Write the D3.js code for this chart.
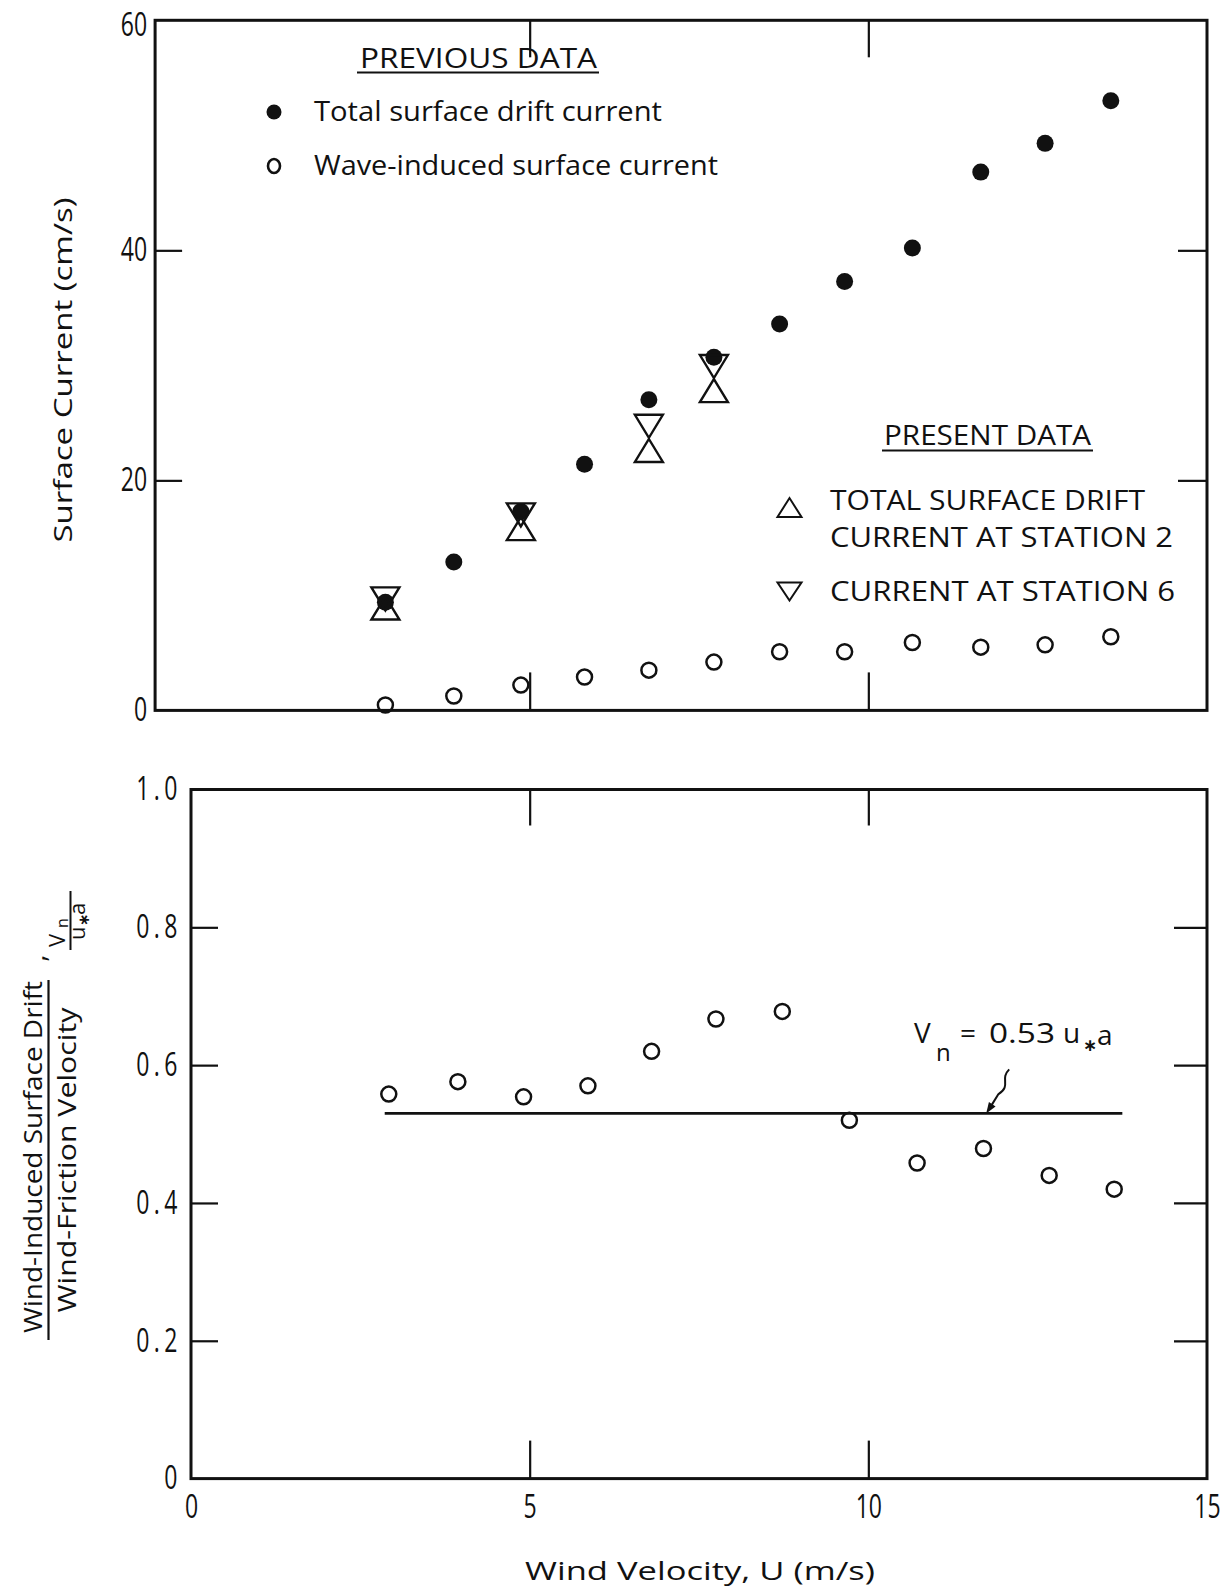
<!DOCTYPE html>
<html>
<head>
<meta charset="utf-8">
<script src="https://cdn.jsdelivr.net/npm/d3@7"></script>
<style>
  html, body { margin: 0; padding: 0; background: #fff; }
  svg { display: block; }
  text { font-family: "Open Sans", "DejaVu Sans", sans-serif; fill: #111; }
</style>
</head>
<body>
<svg id="chart" width="1232" height="1591"></svg>
<script>
// ---- Upper panel: surface current vs wind velocity ----
// wind velocity U (m/s) of the earlier runs
const windSpeed = [2.87, 3.88, 4.87, 5.81, 6.76, 7.72, 8.69, 9.65, 10.65, 11.66, 12.61, 13.58];
// total surface drift current (cm/s), previous data
const totalDriftPrevious = [9.4, 12.9, 17.3, 21.4, 27.0, 30.7, 33.6, 37.3, 40.2, 46.8, 49.3, 53.0];
// wave-induced surface current (cm/s), previous data
const waveInducedCurrent = [0.47, 1.25, 2.2, 2.9, 3.5, 4.2, 5.1, 5.1, 5.9, 5.5, 5.7, 6.4];
// present data
const presentSpeed = [2.87, 4.87, 6.76, 7.72];
const station2Drift = [8.9, 15.8, 22.6, 27.8];
const station6Drift = [9.7, 17.0, 24.7, 29.9];

// ---- Lower panel: wind-induced drift / friction velocity ----
const ratioSpeed = [2.92, 3.94, 4.91, 5.86, 6.80, 7.75, 8.73, 9.72, 10.72, 11.70, 12.67, 13.63];
const driftRatio = [0.558, 0.576, 0.554, 0.570, 0.620, 0.667, 0.678, 0.520, 0.458, 0.479, 0.440, 0.420];
const fitCoefficient = 0.53;          // Vn = 0.53 u*a
const fitSpeedRange = [2.86, 13.75];  // extent of the fitted line
const fitLabelSpeed = 11.74;          // where the leader meets the line

// ---- tick values ----
const xTickLabels = [0, 5, 10, 15];
const xInnerTicks = [5, 10];
const currentTicks = [0, 20, 40, 60];
const ratioTicks = [0, 0.2, 0.4, 0.6, 0.8, 1.0];

const svg = d3.select("#chart");
svg.append("rect").attr("width", 1232).attr("height", 1591).attr("fill", "#fff");

const x = d3.scaleLinear().domain([0, 15]).range([191, 1207]);
const yTop = d3.scaleLinear().domain([0, 60]).range([710.4, 20.3]);
const yBot = d3.scaleLinear().domain([0, 1]).range([1478.6, 789.5]);
const topFrameStart = -0.53; // upper frame reaches a little left of U = 0

const INK = "#111";
const condensed = "scale(0.72,1)";
const TICK_FONT = 32;

function styleAxis(g) {
  g.select(".domain").remove();
  g.selectAll(".tick line").attr("stroke", INK).attr("stroke-width", 2.2);
}
function styleTickText(g, spacing) {
  g.selectAll(".tick text")
    .attr("font-size", TICK_FONT).attr("font-family", "'Open Sans', sans-serif")
    .attr("font-weight", 500)
    .attr("letter-spacing", spacing || 0)
    .attr("fill", INK).attr("transform", condensed);
}

// ================= Upper panel =================
const upper = svg.append("g");
const tx0 = x(topFrameStart), tx1 = x(15), ty0 = yTop(60), ty1 = yTop(0);

// left axis with labels
upper.append("g")
  .attr("transform", `translate(${tx0},0)`)
  .call(d3.axisLeft(yTop).tickValues(currentTicks).tickSize(-27).tickPadding(11).tickFormat(d3.format("d")))
  .call(styleAxis)
  .call(g => g.selectAll(".tick line").filter(d => d === 0 || d === 60).remove())
  .call(g => styleTickText(g, 0))
  // keep the topmost label clear of the page edge
  .call(g => g.selectAll(".tick text").filter(d => d === 60).attr("dy", "0.48em"));

// right axis, ticks only
upper.append("g")
  .attr("transform", `translate(${tx1},0)`)
  .call(d3.axisRight(yTop).tickValues([20, 40]).tickSize(-29).tickFormat(""))
  .call(styleAxis);

// top and bottom edge ticks
upper.append("g")
  .attr("transform", `translate(0,${ty0})`)
  .call(d3.axisTop(x).tickValues(xInnerTicks).tickSize(-37).tickFormat(""))
  .call(styleAxis);
upper.append("g")
  .attr("transform", `translate(0,${ty1})`)
  .call(d3.axisBottom(x).tickValues(xInnerTicks).tickSize(-38).tickFormat(""))
  .call(styleAxis);

// frame
upper.append("rect")
  .attr("x", tx0).attr("y", ty0).attr("width", tx1 - tx0).attr("height", ty1 - ty0)
  .attr("fill", "none").attr("stroke", INK).attr("stroke-width", 3);

// previous data: filled dots
upper.append("g").selectAll("circle")
  .data(windSpeed.map((u, i) => [u, totalDriftPrevious[i]]))
  .join("circle")
  .attr("cx", d => x(d[0])).attr("cy", d => yTop(d[1])).attr("r", 8.5)
  .attr("fill", INK);

// previous data: open circles
upper.append("g").selectAll("circle")
  .data(windSpeed.map((u, i) => [u, waveInducedCurrent[i]]))
  .join("circle")
  .attr("cx", d => x(d[0])).attr("cy", d => yTop(d[1])).attr("r", 7.5)
  .attr("fill", "none").attr("stroke", INK).attr("stroke-width", 2.5);

// triangle paths centred on their bounding box
function triangle(w, h, up) {
  const p = d3.path();
  if (up) { p.moveTo(-w / 2, h / 2); p.lineTo(w / 2, h / 2); p.lineTo(0, -h / 2); }
  else    { p.moveTo(-w / 2, -h / 2); p.lineTo(w / 2, -h / 2); p.lineTo(0, h / 2); }
  p.closePath();
  return p.toString();
}

// present data: station 2 (up) and station 6 (down)
upper.append("g").selectAll("path")
  .data(presentSpeed.map((u, i) => [u, station2Drift[i]]))
  .join("path")
  .attr("d", triangle(28, 23, true))
  .attr("transform", d => `translate(${x(d[0])},${yTop(d[1])})`)
  .attr("fill", "none").attr("stroke", INK).attr("stroke-width", 2.4).attr("stroke-linejoin", "miter");
upper.append("g").selectAll("path")
  .data(presentSpeed.map((u, i) => [u, station6Drift[i]]))
  .join("path")
  .attr("d", triangle(28, 23, false))
  .attr("transform", d => `translate(${x(d[0])},${yTop(d[1])})`)
  .attr("fill", "none").attr("stroke", INK).attr("stroke-width", 2.4).attr("stroke-linejoin", "miter");

// legends
upper.append("text").attr("x", 360).attr("y", 68).attr("font-size", 28)
  .attr("textLength", 237).attr("lengthAdjust", "spacingAndGlyphs").text("PREVIOUS DATA");
upper.append("line").attr("x1", 357).attr("x2", 599).attr("y1", 72.5).attr("y2", 72.5)
  .attr("stroke", INK).attr("stroke-width", 2);
upper.append("circle").attr("cx", 274).attr("cy", 112).attr("r", 7.5).attr("fill", INK);
upper.append("text").attr("x", 314).attr("y", 121).attr("font-size", 27)
  .attr("textLength", 348).attr("lengthAdjust", "spacingAndGlyphs").text("Total surface drift current");
upper.append("ellipse").attr("cx", 274).attr("cy", 166).attr("rx", 6).attr("ry", 7)
  .attr("fill", "none").attr("stroke", INK).attr("stroke-width", 2.6);
upper.append("text").attr("x", 314).attr("y", 175).attr("font-size", 27)
  .attr("textLength", 404).attr("lengthAdjust", "spacingAndGlyphs").text("Wave-induced surface current");

upper.append("text").attr("x", 884).attr("y", 445).attr("font-size", 28)
  .attr("textLength", 207).attr("lengthAdjust", "spacingAndGlyphs").text("PRESENT DATA");
upper.append("line").attr("x1", 882).attr("x2", 1093).attr("y1", 450.5).attr("y2", 450.5)
  .attr("stroke", INK).attr("stroke-width", 2);
upper.append("path").attr("d", triangle(24, 19, true)).attr("transform", "translate(789.5,507.5)")
  .attr("fill", "none").attr("stroke", INK).attr("stroke-width", 2);
upper.append("text").attr("x", 830).attr("y", 510).attr("font-size", 28)
  .attr("textLength", 315).attr("lengthAdjust", "spacingAndGlyphs").text("TOTAL SURFACE DRIFT");
upper.append("text").attr("x", 830).attr("y", 547).attr("font-size", 28)
  .attr("textLength", 343).attr("lengthAdjust", "spacingAndGlyphs").text("CURRENT AT STATION 2");
upper.append("path").attr("d", triangle(24, 18, false)).attr("transform", "translate(789.5,591.5)")
  .attr("fill", "none").attr("stroke", INK).attr("stroke-width", 2);
upper.append("text").attr("x", 830).attr("y", 601).attr("font-size", 28)
  .attr("textLength", 345).attr("lengthAdjust", "spacingAndGlyphs").text("CURRENT AT STATION 6");

// y title
upper.append("text")
  .attr("transform", "translate(72,370) rotate(-90)")
  .attr("text-anchor", "middle").attr("font-size", 26)
  .attr("textLength", 345).attr("lengthAdjust", "spacingAndGlyphs")
  .text("Surface Current  (cm/s)");

// ================= Lower panel =================
const lower = svg.append("g");
const bx0 = x(0), bx1 = x(15), by0 = yBot(1), by1 = yBot(0);

lower.append("g")
  .attr("transform", `translate(${bx0},0)`)
  .call(d3.axisLeft(yBot).tickValues(ratioTicks).tickSize(-27).tickPadding(13)
    .tickFormat(d => d === 0 ? "0" : d.toFixed(1)))
  .call(styleAxis)
  .call(g => g.selectAll(".tick line").filter(d => d === 0 || d === 1).remove())
  .call(g => styleTickText(g, 6))
  .call(g => g.selectAll(".tick text").filter(d => d === 0).attr("letter-spacing", 0).attr("x", -19));

lower.append("g")
  .attr("transform", `translate(${bx1},0)`)
  .call(d3.axisRight(yBot).tickValues([0.2, 0.4, 0.6, 0.8]).tickSize(-33).tickFormat(""))
  .call(styleAxis);

lower.append("g")
  .attr("transform", `translate(0,${by0})`)
  .call(d3.axisTop(x).tickValues(xInnerTicks).tickSize(-36).tickFormat(""))
  .call(styleAxis);

lower.append("g")
  .attr("transform", `translate(0,${by1})`)
  .call(d3.axisBottom(x).tickValues(xTickLabels).tickSize(-38).tickPadding(17).tickFormat(d3.format("d")))
  .call(styleAxis)
  .call(g => g.selectAll(".tick line").filter(d => d === 0 || d === 15).remove())
  .call(g => styleTickText(g, 0));

lower.append("rect")
  .attr("x", bx0).attr("y", by0).attr("width", bx1 - bx0).attr("height", by1 - by0)
  .attr("fill", "none").attr("stroke", INK).attr("stroke-width", 3);

// fitted line Vn = 0.53 u*a
lower.append("line")
  .attr("x1", x(fitSpeedRange[0])).attr("x2", x(fitSpeedRange[1]))
  .attr("y1", yBot(fitCoefficient)).attr("y2", yBot(fitCoefficient))
  .attr("stroke", INK).attr("stroke-width", 2.6);

// ratio points
lower.append("g").selectAll("circle")
  .data(ratioSpeed.map((u, i) => [u, driftRatio[i]]))
  .join("circle")
  .attr("cx", d => x(d[0])).attr("cy", d => yBot(d[1])).attr("r", 7.5)
  .attr("fill", "none").attr("stroke", INK).attr("stroke-width", 2.5);

// label with leader to the line
const tip = [x(fitLabelSpeed), yBot(fitCoefficient)];
const leader = d3.path();
leader.moveTo(tip[0] + 23, tip[1] - 44);
leader.bezierCurveTo(tip[0] + 13, tip[1] - 34, tip[0] + 26, tip[1] - 28, tip[0] + 12, tip[1] - 19);
leader.lineTo(tip[0] + 4, tip[1] - 6);
lower.append("path").attr("d", leader.toString())
  .attr("fill", "none").attr("stroke", INK).attr("stroke-width", 2);
{
  const dir = [-0.55, 0.83], back = [-dir[0], -dir[1]], perp = [dir[1], -dir[0]];
  const L = 11, W = 4;
  const pts = [
    tip,
    [tip[0] + back[0] * L + perp[0] * W, tip[1] + back[1] * L + perp[1] * W],
    [tip[0] + back[0] * L - perp[0] * W, tip[1] + back[1] * L - perp[1] * W]
  ];
  lower.append("polygon").attr("points", pts.map(p => p.join(",")).join(" ")).attr("fill", INK);
}
const lab = lower.append("g");
lab.append("text").attr("x", 914).attr("y", 1043).attr("font-size", 28).text("V");
lab.append("text").attr("x", 936).attr("y", 1061).attr("font-size", 24).text("n");
lab.append("text").attr("x", 960).attr("y", 1043).attr("font-size", 28).text("=");
lab.append("text").attr("x", 989).attr("y", 1043).attr("font-size", 28)
  .attr("textLength", 66).attr("lengthAdjust", "spacingAndGlyphs").text("0.53");
lab.append("text").attr("x", 1063).attr("y", 1043).attr("font-size", 28).text("u");
lab.append("text").attr("x", 1083).attr("y", 1051).attr("font-size", 17).attr("font-weight", 700).text("∗");
lab.append("text").attr("x", 1097).attr("y", 1045).attr("font-size", 28).text("a");

// y title: fraction, then Vn / u*a
const yt = lower.append("g");
yt.append("text").attr("transform", "translate(42,1157) rotate(-90)")
  .attr("text-anchor", "middle").attr("font-size", 25)
  .attr("textLength", 352).attr("lengthAdjust", "spacingAndGlyphs")
  .text("Wind-Induced Surface Drift");
yt.append("line").attr("x1", 48.5).attr("x2", 48.5).attr("y1", 980).attr("y2", 1340)
  .attr("stroke", INK).attr("stroke-width", 2.2);
yt.append("text").attr("transform", "translate(76,1160) rotate(-90)")
  .attr("text-anchor", "middle").attr("font-size", 25)
  .attr("textLength", 305).attr("lengthAdjust", "spacingAndGlyphs")
  .text("Wind-Friction Velocity");
yt.append("text").attr("transform", "translate(45,958) rotate(-90)")
  .attr("text-anchor", "middle").attr("font-size", 28).text(",");
// Vn over u*a
yt.append("text").attr("transform", "translate(65,947) rotate(-90)")
  .attr("font-size", 22).text("V");
yt.append("text").attr("transform", "translate(68,928) rotate(-90)")
  .attr("font-size", 16).text("n");
yt.append("line").attr("x1", 70.5).attr("x2", 70.5).attr("y1", 891).attr("y2", 950)
  .attr("stroke", INK).attr("stroke-width", 2);
yt.append("text").attr("transform", "translate(85,940) rotate(-90)")
  .attr("font-size", 22).text("u");
yt.append("text").attr("transform", "translate(89,926) rotate(-90)")
  .attr("font-size", 15).attr("font-weight", 700).text("∗");
yt.append("text").attr("transform", "translate(85,915) rotate(-90)")
  .attr("font-size", 22).text("a");

// x title
svg.append("text").attr("x", 700).attr("y", 1580).attr("text-anchor", "middle")
  .attr("font-size", 26).attr("textLength", 350).attr("lengthAdjust", "spacingAndGlyphs")
  .text("Wind Velocity,  U  (m/s)");
</script>
</body>
</html>
